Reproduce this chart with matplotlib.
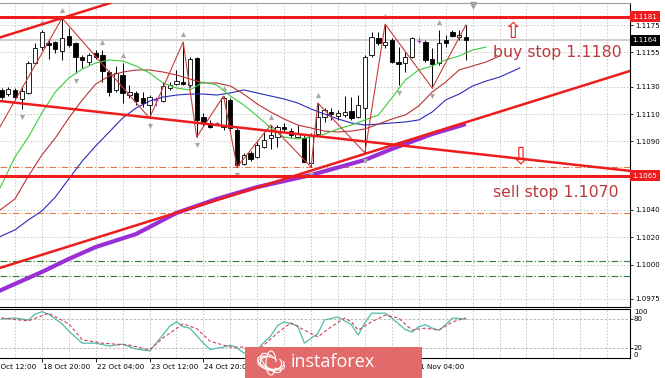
import matplotlib.pyplot as plt
from matplotlib.patches import Rectangle, Arc

# --- EURUSD H4 candles (bar 0 = first bar on screen) ---
bar_idx = list(range(70))
opens = [1.11276, 1.11246, 1.11276, 1.11210, 1.11254, 1.11473, 1.11589, 1.11619, 1.11626, 1.11560,
         1.11670, 1.11619, 1.11516, 1.11480, 1.11546, 1.11531, 1.11407, 1.11276, 1.11385, 1.11239,
         1.11254, 1.11217, 1.11166, 1.11195, 1.11195, 1.11290, 1.11319, 1.11334, 1.11312, 1.11509,
         1.11078, 1.11035, 1.11027, 1.11005, 1.11203, 1.10984, 1.10735, 1.10816, 1.10786, 1.10859,
         1.10925, 1.10932, 1.11005, 1.10976, 1.10932, 1.10925, 1.10743, 1.10954, 1.11078, 1.11115,
         1.11086, 1.11093, 1.11122, 1.11078, 1.11144, 1.11531, 1.11655, 1.11604, 1.11640, 1.11480,
         1.11473, 1.11516, 1.11640, 1.11626, 1.11502, 1.11473, 1.11640, 1.11699, 1.11662, 1.11662]
highs = [1.11290, 1.11297, 1.11290, 1.11305, 1.11487, 1.11619, 1.11714, 1.11640, 1.11633, 1.11801,
         1.11728, 1.11626, 1.11531, 1.11546, 1.11567, 1.11567, 1.11422, 1.11451, 1.11473, 1.11312,
         1.11268, 1.11261, 1.11239, 1.11224, 1.11334, 1.11334, 1.11422, 1.11626, 1.11516, 1.11516,
         1.11108, 1.11057, 1.11042, 1.11232, 1.11217, 1.10998, 1.10816, 1.10830, 1.10896, 1.10969,
         1.11020, 1.11020, 1.11035, 1.10998, 1.11020, 1.10947, 1.10962, 1.11181, 1.11144, 1.11144,
         1.11130, 1.11232, 1.11224, 1.11239, 1.11531, 1.11699, 1.11699, 1.11757, 1.11655, 1.11589,
         1.11553, 1.11662, 1.11662, 1.11640, 1.11582, 1.11714, 1.11677, 1.11714, 1.11714, 1.11750]
lows = [1.11210, 1.11232, 1.11203, 1.11137, 1.11246, 1.11465, 1.11567, 1.11502, 1.11546, 1.11495,
        1.11589, 1.11400, 1.11436, 1.11458, 1.11502, 1.11334, 1.11232, 1.11261, 1.11181, 1.11217,
        1.11166, 1.11151, 1.11071, 1.11159, 1.11188, 1.11276, 1.11312, 1.11312, 1.11297, 1.10932,
        1.11013, 1.10998, 1.11013, 1.10984, 1.10962, 1.10713, 1.10728, 1.10757, 1.10779, 1.10852,
        1.10845, 1.10859, 1.10969, 1.10925, 1.10925, 1.10750, 1.10713, 1.10947, 1.11042, 1.11057,
        1.11057, 1.11078, 1.11057, 1.11071, 1.10816, 1.11516, 1.11604, 1.11582, 1.11473, 1.11312,
        1.11407, 1.11509, 1.11619, 1.11480, 1.11290, 1.11458, 1.11589, 1.11662, 1.11640, 1.11495]
closes = [1.11224, 1.11283, 1.11224, 1.11268, 1.11473, 1.11582, 1.11699, 1.11604, 1.11575, 1.11655,
          1.11604, 1.11516, 1.11495, 1.11531, 1.11516, 1.11414, 1.11261, 1.11400, 1.11254, 1.11261,
          1.11195, 1.11181, 1.11224, 1.11203, 1.11305, 1.11312, 1.11341, 1.11319, 1.11502, 1.11057,
          1.11035, 1.11005, 1.11035, 1.11217, 1.10998, 1.10728, 1.10801, 1.10772, 1.10874, 1.10911,
          1.10947, 1.11005, 1.10991, 1.10947, 1.10954, 1.10750, 1.10947, 1.11078, 1.11130, 1.11100,
          1.11108, 1.11115, 1.11071, 1.11166, 1.11516, 1.11662, 1.11619, 1.11626, 1.11480, 1.11465,
          1.11516, 1.11655, 1.11633, 1.11495, 1.11465, 1.11619, 1.11619, 1.11670, 1.11677, 1.11640]
doji_bars = [23, 32, 62]

# Alligator (lips / teeth / jaw, shifted forward), sampled every 2 bars
lips_idx = [-1, 0, 2, 4, 6, 8, 10, 12, 14, 16, 18, 20, 22, 24, 26, 28, 30, 32, 34, 36,
            38, 40, 42, 44, 46, 48, 50, 52, 54, 56, 58, 60, 62, 64, 66, 68, 70, 72]
lips = [1.10487, 1.10582, 1.10786, 1.10932, 1.11108, 1.11261, 1.11363, 1.11429, 1.11473, 1.11495,
        1.11487, 1.11451, 1.11400, 1.11327, 1.11290, 1.11276, 1.11334, 1.11312, 1.11232, 1.11166,
        1.11086, 1.10998, 1.10932, 1.10918, 1.10932, 1.10954, 1.10991, 1.11020, 1.11057, 1.11093,
        1.11217, 1.11349, 1.11422, 1.11451, 1.11495, 1.11524, 1.11568, 1.11589]
teeth_idx = [-1, 0, 2, 4, 6, 8, 10, 12, 14, 16, 18, 20, 22, 24, 26, 28, 30, 32, 34, 36,
             38, 40, 42, 44, 46, 48, 50, 52, 54, 56, 58, 60, 62, 64, 66, 68, 70, 72, 74]
teeth = [1.10378, 1.10407, 1.10480, 1.10648, 1.10801, 1.10925, 1.11071, 1.11203, 1.11319, 1.11378,
         1.11407, 1.11422, 1.11422, 1.11407, 1.11385, 1.11356, 1.11327, 1.11327, 1.11305, 1.11246,
         1.11173, 1.11115, 1.11064, 1.11020, 1.10998, 1.10976, 1.10969, 1.10976, 1.10991, 1.11027,
         1.11064, 1.11093, 1.11159, 1.11261, 1.11334, 1.11422, 1.11451, 1.11480, 1.11524]
jaw_idx = [-1, 0, 2, 4, 6, 8, 10, 12, 14, 16, 18, 20, 22, 24, 26, 28, 30, 32, 34, 36,
           38, 40, 42, 44, 46, 48, 50, 52, 54, 56, 58, 60, 62, 64, 66, 68, 70, 72, 74, 76, 77]
jaw = [1.10188, 1.10210, 1.10254, 1.10327, 1.10392, 1.10494, 1.10626, 1.10757, 1.10867, 1.10969,
       1.11071, 1.11144, 1.11195, 1.11224, 1.11239, 1.11246, 1.11246, 1.11239, 1.11254, 1.11276,
       1.11254, 1.11232, 1.11210, 1.11181, 1.11137, 1.11100, 1.11064, 1.11035, 1.11020, 1.11027,
       1.11035, 1.11042, 1.11057, 1.11115, 1.11203, 1.11246, 1.11305, 1.11341, 1.11370, 1.11414,
       1.11436]
slow_ma_idx = [-1, 0, 6, 10, 14, 20, 26, 32, 38, 46, 54, 58, 64, 69]
slow_ma = [1.09794, 1.09816, 1.09947, 1.10042, 1.10129, 1.10224, 1.10378, 1.10480, 1.10567,
           1.10655, 1.10765, 1.10845, 1.10954, 1.11027]

# ZigZag and fractals
zz_idx = [-1, 9, 22, 27, 29, 33, 35, 40, 46, 47, 54, 57, 64, 69]
zz_price = [1.10940, 1.11801, 1.11071, 1.11626, 1.10932, 1.11232, 1.10713, 1.11020, 1.10713,
            1.11181, 1.10816, 1.11757, 1.11290, 1.11750]
frac_up = [6, 9, 15, 18, 27, 33, 40, 47, 57, 65]
frac_dn = [3, 11, 22, 29, 35, 46, 54, 59, 64]

# drawn objects
red_levels = [1.1181, 1.1065]
orange_levels = [1.1071, 1.1038]
green_levels = [1.1003, 1.0992]
bid = 1.1164
trend_down = [(0, 1.11194), (69, 1.10818)]
trend_up = [(0, 1.09980), (69, 1.11040)]
channel_top = (9, 1.11801)

price_ticks = [1.1175, 1.1155, 1.1130, 1.1110, 1.1090, 1.1040, 1.1020, 1.1000, 1.0975]
tick_idx = [-2, 6, 14, 22, 30, 38, 46, 54, 62]
# labels that are not hidden under the watermark
date_idx = [-2, 6, 14, 22, 30, 62]
date_labels = ['17 Oct 12:00', '18 Oct 20:00', '22 Oct 04:00', '23 Oct 12:00', '24 Oct 20:00',
               '1 Nov 04:00']

# Stochastic
sto_idx = [0, 2, 4, 5, 6, 7, 9, 10, 12, 14, 16, 18, 20, 22, 23, 25, 26, 27, 28, 30,
           31, 33, 34, 35, 36, 37, 38, 40, 41, 42, 44, 45, 47, 48, 50, 52, 53, 54, 55, 57,
           58, 60, 61, 62, 63, 64, 65, 66, 67, 69]
sto_main = [80, 82, 78, 90, 95, 90, 70, 55, 30, 30, 24, 28, 18, 14, 30, 65, 74, 64, 61, 30,
            17, 22, 26, 20, 10, 8, 18, 45, 66, 74, 66, 30, 50, 78, 84, 68, 47, 72, 92, 92,
            82, 58, 53, 64, 68, 61, 57, 68, 82, 80]
sig_idx = [0, 4, 7, 10, 12, 15, 19, 22, 24, 27, 29, 31, 34, 36, 38, 41, 43, 45, 47, 49,
           51, 52, 53, 55, 57, 59, 61, 63, 65, 67, 69]
sto_signal = [82, 76, 92, 70, 37, 30, 26, 16, 41, 70, 60, 34, 22, 22, 14, 51, 72, 57, 43, 64,
              82, 74, 57, 74, 88, 82, 57, 61, 57, 74, 82]

# --- layout (pixels of the 665x378 picture) ---
W, H = 665, 378
XLIM = (-0.223, 93.39)
fig = plt.figure(figsize=(W / 100, H / 100), dpi=100)


def add_ax(left, top, right, bottom):
    return fig.add_axes([left / W, 1 - bottom / H, (right - left) / W, (bottom - top) / H])


ax = add_ax(0, 3, 630, 307)
st = add_ax(0, 309.3, 630, 357.7)

GRID = dict(color='#c4c4c4', lw=0.6, ls=(0, (2, 2)), zorder=0)
for a in (ax, st):
    for gx in range(2, 94, 4):
        a.axvline(gx, **GRID)
    a.spines['left'].set_visible(False)
    for s in ('right', 'bottom', 'top'):
        a.spines[s].set_linewidth(0.8)
    a.yaxis.tick_right()
    a.tick_params(axis='y', length=2, width=0.6, labelsize=5, pad=1.5)

ax.set_ylim(1.09691, 1.11911)
ax.set_xticks([])
ax.set_yticks(price_ticks)
ax.set_yticklabels([f'{p:.4f}' for p in price_ticks])
for p in price_ticks:
    ax.axhline(p, **GRID)
ax.spines['top'].set_color('#9a9a9a')

# candles
for i in bar_idx:
    o, h, l, c = opens[i], highs[i], lows[i], closes[i]
    col = '#b040b0' if i in doji_bars else 'black'
    ax.vlines(i, l, h, color=col, lw=0.7, zorder=3)
    if i in doji_bars:
        ax.hlines(c, i - 0.32, i + 0.32, color=col, lw=1.0, zorder=4)
    else:
        ax.add_patch(Rectangle((i - 0.32, min(o, c)), 0.64, abs(c - o),
                               fc='white' if c > o else 'black', ec='black', lw=0.6, zorder=4))

# indicators
ax.plot(slow_ma_idx, slow_ma, color='#9a2fd6', lw=3.0, zorder=5, solid_capstyle='butt')
ax.plot(jaw_idx, jaw, color='#2b2bb8', lw=0.8, zorder=5)
ax.plot(teeth_idx, teeth, color='#b83232', lw=0.8, zorder=5)
ax.plot(lips_idx, lips, color='#3ccc3c', lw=0.8, zorder=5)
ax.plot(zz_idx, zz_price, color='#c83c3c', lw=0.8, zorder=6)
ax.scatter(frac_up, [highs[i] + 0.0006 for i in frac_up], marker='^', s=14, color='#a8a8a8',
           zorder=6, linewidths=0)
ax.scatter(frac_dn, [lows[i] - 0.0006 for i in frac_dn], marker='v', s=14, color='#a8a8a8',
           zorder=6, linewidths=0)
ax.plot(70.1, 1.11896, marker='v', ms=5, color='#a0a0a0', clip_on=False, zorder=6)

# objects
ax.axhline(bid, color='#c8c8c8', lw=1.2, zorder=2)
for p in orange_levels:
    ax.axhline(p, color='#e07a4a', lw=0.8, ls=(0, (6, 2, 1, 2)), zorder=2)
for p in green_levels:
    ax.axhline(p, color='#2f7d32', lw=0.8, ls=(0, (6, 2, 1, 2)), zorder=2)
for p in red_levels:
    ax.axhline(p, color='#ee1c1c', lw=2.2, zorder=7)
ax.axline(trend_down[0], trend_down[1], color='#ee1c1c', lw=1.8, zorder=7)
ax.axline(trend_up[0], trend_up[1], color='#ee1c1c', lw=1.8, zorder=7)
slope = (trend_up[1][1] - trend_up[0][1]) / (trend_up[1][0] - trend_up[0][0])
ax.axline(channel_top, slope=slope, color='#ee1c1c', lw=1.8, zorder=7)

ax.text(73.0, 1.11546, 'buy stop 1.1180', fontsize=11.3, color='#b83a3c', va='center', zorder=8)
ax.text(73.0, 1.10524, 'sell stop 1.1070', fontsize=11.3, color='#b83a3c', va='center', zorder=8)
ax.text(76.0, 1.11700, '\u21e7', fontsize=16, color='#ee2020', ha='center', va='center', zorder=8)
ax.text(77.2, 1.10790, '\u21e9', fontsize=17, color='#ee2020', ha='center', va='center', zorder=8)

ytr = ax.get_yaxis_transform()
for p, fc in [(red_levels[0], '#ee1c1c'), (red_levels[1], '#ee1c1c'), (bid, 'black')]:
    ax.text(1.004, p, f'{p:.4f}', transform=ytr, fontsize=5, color='white', va='center',
            ha='left', clip_on=False, zorder=10,
            bbox=dict(boxstyle='square,pad=0.35', fc=fc, ec='none'))

# stochastic window
st.set_ylim(0, 100)
st.set_yticks([20, 80])
st.set_yticklabels([])
for lv in (20, 80):
    st.axhline(lv, color='#b0b0b0', lw=0.6, ls=(0, (3, 2)), zorder=1)
st.plot(sto_idx, sto_main, color='#4fbaa8', lw=0.9, zorder=3)
st.plot(sig_idx, sto_signal, color='#d0405a', lw=0.8, ls=(0, (3, 2)), zorder=3)
st_tr = st.get_yaxis_transform()
for v, va in [(100, 'top'), (80, 'center'), (20, 'center'), (0, 'bottom')]:
    st.text(1.006, v, str(v), transform=st_tr, fontsize=5, va=va, ha='left', clip_on=False)
st.set_xticks(tick_idx)
st.tick_params(axis='x', length=3, width=0.6, labelbottom=False)
xtr = st.get_xaxis_transform()
for i, lab in zip(date_idx, date_labels):
    st.text(i + 0.15, -0.19, lab, transform=xtr, fontsize=5.2, ha='left', va='center',
            clip_on=False)

# set_xticks may widen the view, so fix the limits last
for a in (ax, st):
    a.set_xlim(*XLIM)

# watermark
fig.patches.append(Rectangle((245 / W, 0), 177 / W, 31 / H, transform=fig.transFigure,
                             fc='#e26a6a', ec='none', zorder=10))
for k in range(5):
    fig.patches.append(Arc((271 / W, 15 / H), (10 + 4 * k) / W, (24 - 3 * k) / H,
                           angle=25 * k, theta1=20, theta2=300, transform=fig.transFigure,
                           color='white', lw=0.8, zorder=11))
fig.text(291 / W, 16 / H, 'instaforex', fontsize=13, family='Open Sans', color='white',
         va='center', ha='left', zorder=12)

fig.savefig('out.png', dpi=100)
